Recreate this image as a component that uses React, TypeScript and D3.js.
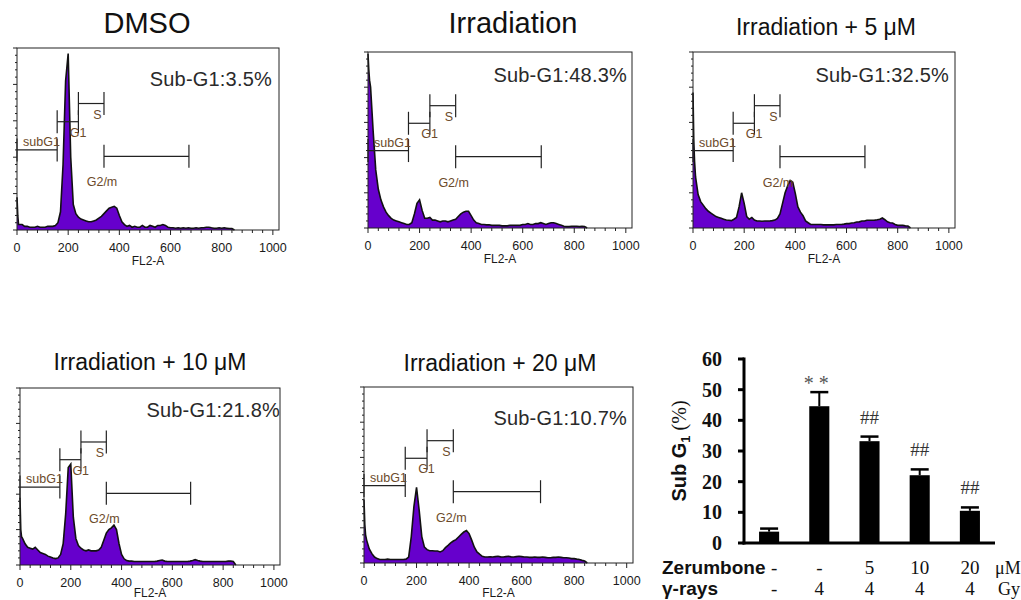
import React from 'react';
import * as d3 from 'd3';

// channel positions of the histogram points (FL2-A)
const CHANNELS = [0, 3, 6, 10, ...d3.range(20, 851, 10)];

// counts as % of the plot height, one value per channel above
const HIST_DMSO = [
  18, 8, 3, 3,
  3, 2, 2, 1.5, 1.5, 1.5, 2, 1.5, 1.5, 1.5, 2, 2, 2, 2.5,
  4, 10, 36, 82, 97, 40, 14, 9, 7, 6,
  5.5, 5, 4.5, 4.5, 5, 5.5, 6.5, 7.5, 9, 10.5,
  12, 12.5, 13, 12, 8, 4.5, 3, 2, 2.5, 1.5,
  2, 1.5, 1.5, 2.5, 1.5, 1.5, 2.5, 2, 1.5, 2.5,
  2.5, 3, 2.5, 1.5, 1.2, 1.2, 1, 1.2, 1, 1.2,
  1, 1.2, 1, 1, 1.2, 1, 1.2, 1.2, 1.5, 1.5,
  1.2, 1, 1, 1.2, 1, 1.2, 1, 0.8, 0.8, 0,
];
const HIST_IR = [
  99, 90, 84, 80,
  55, 33, 22, 16, 12, 9, 7, 5.5, 4.5, 4, 3.5, 3, 2.5, 2,
  2, 3, 8, 14, 16, 10, 5.5, 5.5, 6, 4.5,
  4.5, 4, 3.5, 4, 4, 3.5, 4, 4.5, 5, 6.5,
  8, 9, 9.5, 9.5, 7, 4.5, 3, 2.5, 2, 2,
  1.8, 1.8, 1.5, 1.5, 1.5, 1.5, 1.2, 1.2, 1.2, 1.5,
  1.5, 1.5, 1.5, 1.5, 2, 2, 2.5, 2, 2, 2.5,
  2.5, 3, 2.5, 2, 2.5, 3, 3, 2.5, 2, 1.5,
  1, 0.8, 0.8, 1, 1, 1, 0.8, 1, 0.8, 0,
];
const HIST_IR5 = [
  77, 50, 38, 29,
  19, 15, 13, 11, 9.5, 8.5, 7.5, 6.5, 6, 5.5, 5, 4.5, 4.4, 4.2,
  5, 6, 12, 20, 14, 6.5, 5, 6, 4.5, 4,
  4, 3.8, 4, 4, 4, 4.2, 4.5, 5.5, 8, 14,
  20, 24, 27, 26, 19.5, 12, 9, 7, 4, 3,
  2, 2, 2, 2, 2, 1.8, 1.8, 1.8, 1.8, 1.8,
  2, 2, 2, 2.2, 2.5, 2.5, 2.8, 3, 3.4, 3.5,
  4, 4, 4.4, 4.4, 4.4, 4.5, 4.7, 5, 5.7, 4.7,
  3.5, 3, 2.8, 2, 1.5, 1.5, 1.5, 1.2, 1.1, 0,
];
const HIST_IR10 = [
  38, 20, 16, 15,
  12, 10, 9.5, 9, 10, 8.5, 7, 6.5, 6, 5, 4.5, 4, 3.6, 4,
  6, 12, 29, 55, 57, 27, 15, 11, 9.5, 8.5,
  8, 8.5, 8, 8, 8, 8.5, 10, 14, 18, 20,
  21, 22.5, 20, 12, 6, 3.5, 2.5, 2.2, 2.2, 2,
  2, 2, 2, 2, 2, 2, 2, 2, 2.2, 2.5,
  2.8, 2.2, 2, 2, 2, 2, 2, 2, 2, 2,
  2, 2.2, 2.5, 3, 2.5, 2.2, 2, 2, 2, 2,
  2, 2, 2, 2, 2, 2, 2.2, 2.2, 2, 0,
];
const HIST_IR20 = [
  36, 22, 16, 13,
  8, 5.3, 3.4, 2.5, 2, 2, 2, 2.2, 2, 2, 2, 2, 2, 2,
  2.2, 3.4, 15, 32, 43, 30, 15, 9, 7.6, 7,
  7, 6.8, 6.8, 6.3, 7, 8.7, 10, 11.4, 12.5, 13.3,
  14.8, 16.3, 17.6, 18.5, 16.7, 13, 9, 6.3, 5, 3.8,
  3.4, 3.4, 3.5, 3.4, 3.6, 3.8, 3.5, 3.4, 3.6, 3.8,
  3.5, 3.4, 3.6, 3.8, 3.6, 3.4, 3.4, 3.2, 3.2, 3.4,
  3.2, 3.2, 3.4, 3.2, 3, 3, 3.2, 3.2, 3.4, 3.2,
  3, 3, 2.8, 2.5, 2.5, 2.2, 2, 1.5, 1.1, 0,
];

const HIST_TITLES = ['DMSO', 'Irradiation', 'Irradiation + 5 μM', 'Irradiation + 10 μM', 'Irradiation + 20 μM'];
const SUBG1_TEXT = ['3.5', '48.3', '32.5', '21.8', '10.7'];
const HISTS = [HIST_DMSO, HIST_IR, HIST_IR5, HIST_IR10, HIST_IR20];

// gates: [name, start channel, end channel, level in % of height]
const GATES: [string, number, number, number][] = [
  ['subG1', 0, 157, 44],
  ['G1', 157, 240, 59.5],
  ['S', 240, 340, 69.5],
  ['G2/m', 340, 672, 40.5],
];

const X_TICKS = [0, 200, 400, 600, 800, 1000];

// bar chart
const GROUPS = ['ctrl', 'IR', 'IR5', 'IR10', 'IR20'];
const SUBG1_MEAN = [3.7, 44.6, 33.2, 22.1, 10.5];
const SUBG1_ERR = [1.0, 4.6, 1.5, 1.9, 1.1];
const SIG = ['', '* *', '##', '##', '##'];
const ZERUMBONE = ['-', '-', '5', '10', '20'];
const GAMMA = ['-', '4', '4', '4', '4'];
const Y_TICKS = [0, 10, 20, 30, 40, 50, 60];

// panel layout
const LAYOUT = [
  { l: 17, t: 48, r: 279, b: 230, tx: 147, ty: 33, ts: 29, sr: 272, sy: 86 },
  { l: 368, t: 52, r: 632, b: 228, tx: 513, ty: 33, ts: 29, sr: 627, sy: 82 },
  { l: 693, t: 52, r: 955, b: 228, tx: 826, ty: 35, ts: 23, sr: 949, sy: 82 },
  { l: 20, t: 388, r: 280, b: 565, tx: 150, ty: 370, ts: 23, sr: 280, sy: 417 },
  { l: 364, t: 387, r: 633, b: 563, tx: 500, ty: 371, ts: 23, sr: 627, sy: 425 },
];

const SANS = '"Liberation Sans", Arial, sans-serif';
const SERIF = '"Liberation Serif", "Times New Roman", serif';
const GATE_COLOR = '#6b4a2a';

function Histogram({ i }: { i: number }) {
  const L = LAYOUT[i];
  const x = d3.scaleLinear().domain([0, 1024]).range([L.l, L.r]);
  const y = d3.scaleLinear().domain([0, 100]).range([L.b, L.t]);
  const pts = CHANNELS.map((c, k) => [c, HISTS[i][k]] as [number, number]);
  const area = d3.area<[number, number]>().x(d => x(d[0])).y0(y(0)).y1(d => y(d[1]));
  const line = d3.line<[number, number]>().x(d => x(d[0])).y(d => y(d[1]));
  const minorX = d3.range(0, 1001, 40).filter(v => v % 200 !== 0);
  const minorY = d3.range(0, 101, 4).filter(v => v % 20 !== 0);
  const fl2y = Math.min(L.b + 35, 597);

  return (
    <g>
      <text x={L.tx} y={L.ty} textAnchor="middle" fontFamily={SANS} fontSize={L.ts} fill="#111">{HIST_TITLES[i]}</text>
      <path d={area(pts) || ''} fill="#6600cc" />
      <path d={line(pts) || ''} fill="none" stroke="#111" strokeWidth={1.6} />
      <rect x={L.l} y={L.t} width={L.r - L.l} height={L.b - L.t} fill="none" stroke="#222" strokeWidth={1} />
      {/* y ticks */}
      {[0, 20, 40, 60, 80, 100].map(v => (
        <line key={'ym' + v} x1={L.l - 4} x2={L.l} y1={y(v)} y2={y(v)} stroke="#222" />
      ))}
      {minorY.map(v => (
        <line key={'yn' + v} x1={L.l - 2} x2={L.l} y1={y(v)} y2={y(v)} stroke="#222" />
      ))}
      {/* x ticks */}
      {X_TICKS.map(v => (
        <g key={'xm' + v}>
          <line x1={x(v)} x2={x(v)} y1={L.b} y2={L.b + 5} stroke="#222" />
          <text x={x(v)} y={L.b + 22} textAnchor="middle" fontFamily={SANS} fontSize={12.5} fill="#1a1a1a">{v}</text>
        </g>
      ))}
      {minorX.map(v => (
        <line key={'xn' + v} x1={x(v)} x2={x(v)} y1={L.b} y2={L.b + 3} stroke="#222" />
      ))}
      <text x={(L.l + L.r) / 2} y={fl2y} textAnchor="middle" fontFamily={SANS} fontSize={12} fill="#1a1a1a">FL2-A</text>
      {/* gates */}
      {GATES.map(([name, c0, c1, lvl]) => {
        const gy = y(lvl);
        const x0 = x(c0), x1 = x(c1);
        let label;
        if (name === 'subG1') label = <text x={x0 + 6} y={gy - 4} fontFamily={SANS} fontSize={12.5} fill={GATE_COLOR}>{name}</text>;
        else if (name === 'G2/m') label = <text x={x0 - 2} y={gy + 30} textAnchor="middle" fontFamily={SANS} fontSize={12.5} fill={GATE_COLOR}>{name}</text>;
        else label = <text x={(x0 + x1) / 2 + 2} y={gy + 15} fontFamily={SANS} fontSize={12.5} fill={GATE_COLOR}>{name}</text>;
        return (
          <g key={name}>
            <line x1={x0} x2={x1} y1={gy} y2={gy} stroke="#222" strokeWidth={1.2} />
            <line x1={x0} x2={x0} y1={gy - 11.5} y2={gy + 11.5} stroke="#222" strokeWidth={1.2} />
            <line x1={x1} x2={x1} y1={gy - 11.5} y2={gy + 11.5} stroke="#222" strokeWidth={1.2} />
            {label}
          </g>
        );
      })}
      <text x={L.sr} y={L.sy} textAnchor="end" fontFamily={SANS} fontSize={20} letterSpacing={0.2} fill="#2a2a2a">{'Sub-G1:' + SUBG1_TEXT[i] + '%'}</text>
    </g>
  );
}

function BarChart() {
  const x = d3.scaleBand().domain(GROUPS).range([744, 995]).paddingInner(0.6).paddingOuter(0.3);
  const y = d3.scaleLinear().domain([0, 60]).range([543, 359]);
  const bw = x.bandwidth();
  const row1 = 574, row2 = 595;
  return (
    <g>
      {GROUPS.map((g, k) => {
        const cx = (x(g) as number) + bw / 2;
        const top = y(SUBG1_MEAN[k]);
        const et = y(SUBG1_MEAN[k] + SUBG1_ERR[k]);
        return (
          <g key={g}>
            <line x1={cx} x2={cx} y1={top} y2={et} stroke="#000" strokeWidth={2} />
            <line x1={cx - 9} x2={cx + 9} y1={et} y2={et} stroke="#000" strokeWidth={2.5} />
            <rect x={x(g)} y={top} width={bw} height={y(0) - top} fill="#000" />
            {SIG[k] === '##' && (
              <text x={cx} y={et - 13} textAnchor="middle" fontFamily={SERIF} fontSize={19} fill="#333">##</text>
            )}
            {SIG[k] === '* *' && (
              <text x={cx - 3} y={et - 2} textAnchor="middle" fontFamily={SERIF} fontSize={20} fill="#555">* *</text>
            )}
            <text x={cx + (k === 0 ? 5 : 0)} y={row1} textAnchor="middle" fontFamily={SERIF} fontSize={19} fill="#111">{ZERUMBONE[k]}</text>
            <text x={cx + (k === 0 ? 5 : 0)} y={row2} textAnchor="middle" fontFamily={SERIF} fontSize={19} fill="#111">{GAMMA[k]}</text>
          </g>
        );
      })}
      {/* axes */}
      <line x1={744} x2={744} y1={y(60) - 1.5} y2={y(0) + 1.5} stroke="#000" strokeWidth={3} />
      <line x1={742.5} x2={995} y1={y(0)} y2={y(0)} stroke="#000" strokeWidth={3} />
      {Y_TICKS.map(v => (
        <g key={v}>
          <line x1={738} x2={744} y1={y(v)} y2={y(v)} stroke="#000" strokeWidth={3} />
          <text x={722} y={y(v)} dy="0.35em" textAnchor="end" fontFamily={SERIF} fontWeight="bold" fontSize={20} fill="#111">{v}</text>
        </g>
      ))}
      <text transform="translate(686,451) rotate(-90)" textAnchor="middle" fontSize={20} fill="#111">
        <tspan fontFamily={SANS} fontWeight="bold">Sub G</tspan>
        <tspan fontFamily={SANS} fontWeight="bold" fontSize={13} dy={4}>1</tspan>
        <tspan fontFamily={SERIF} dy={-4}> (%)</tspan>
      </text>
      <text x={662} y={row1} fontFamily={SANS} fontWeight="bold" fontSize={19} fill="#111">Zerumbone</text>
      <text x={662} y={row2} fontFamily={SANS} fontWeight="bold" fontSize={19} fill="#111">γ-rays</text>
      <text x={995} y={row1} fontFamily={SERIF} fontSize={18} fill="#111">μM</text>
      <text x={998} y={row2} fontFamily={SERIF} fontSize={18} fill="#111">Gy</text>
    </g>
  );
}

export default function App() {
  return (
    <svg width={1021} height={600} style={{ position: 'absolute', left: 0, top: 0, background: '#fff' }}>
      <rect width={1021} height={600} fill="#fff" />
      {HISTS.map((_, i) => <Histogram key={i} i={i} />)}
      <BarChart />
    </svg>
  );
}
